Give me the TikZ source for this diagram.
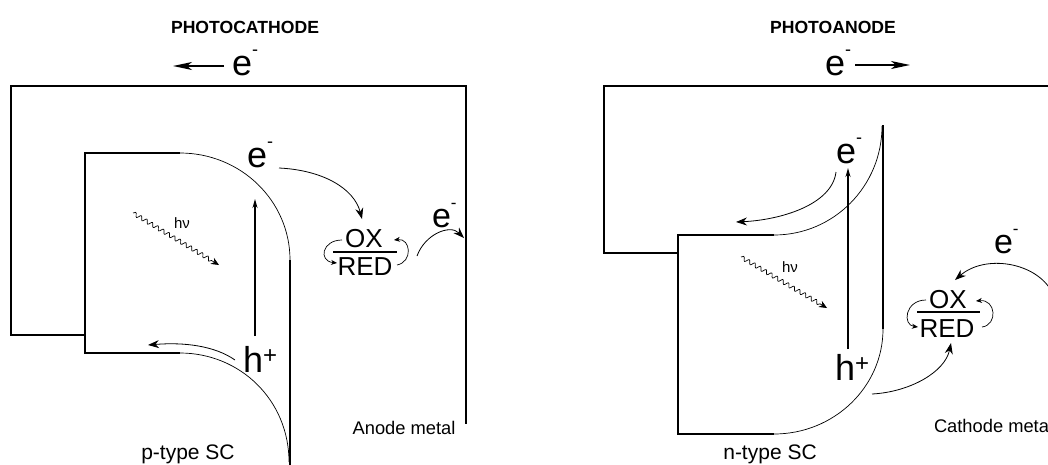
\documentclass[tikz,border=0pt]{standalone}
\usepackage{fontspec}
\setmainfont{Liberation Sans}
\usepackage{graphicx}
\usetikzlibrary{arrows.meta,decorations.pathmorphing}
\newcommand\elab[2]{{\fontsize{#1}{#1}\selectfont e\raisebox{.55em}{\fontsize{#2}{#2}\selectfont -}}}
\newcommand\hlab[2]{{\fontsize{#1}{#1}\selectfont h\raisebox{.25em}{\fontsize{#2}{#2}\selectfont +}}}
\begin{document}
\begin{tikzpicture}[x=1pt,y=-1pt,
  wire/.style={line width=1.8pt},
  band/.style={line width=0.7pt},
  flow/.style={line width=0.8pt,-{Stealth[length=11pt,width=8pt]}},
  loopar/.style={line width=0.7pt,-{Stealth[length=6pt,width=5pt]}},
  bigarrow/.style={line width=1.4pt,-{Stealth[length=19pt,width=8pt,inset=5pt]}},
  updown/.style={line width=1.3pt,-{Stealth[length=9pt,width=5pt]}},
  photon/.style={line width=0.7pt,-{Stealth[length=8pt,width=7pt]},decorate,
    decoration={snake,amplitude=2pt,segment length=6.5pt,post length=7pt}},
  lbl/.style={inner sep=0pt,outer sep=0pt},
  title/.style={lbl,anchor=base,font=\fontsize{17.6}{20}\selectfont\bfseries},
  caption/.style={lbl,font=\fontsize{18.3}{20}\selectfont},
  sclabel/.style={lbl,anchor=base,font=\fontsize{21}{24}\selectfont},
  redox/.style={lbl,anchor=base,font=\fontsize{26}{28}\selectfont},
  hnu/.style={lbl,anchor=base west,font=\fontsize{15}{16}\selectfont},
  carrier/.style={lbl,anchor=base west}]
\useasboundingbox (0,0) rectangle (1048,464);

% ---------------- PHOTOCATHODE ----------------
\node[title] (tcath) at (245,33) {PHOTOCATHODE};
\node[carrier] (ecath) at (232,75) {\elab{36}{18}};
\coordinate (cathtip) at (173,66);
\draw[bigarrow] (cathtip -| ecath.west) ++(-8,0) -- (cathtip);

% outer wire
\draw[wire] (85,335) -- (11,335) -- (11,86) -- (466,86) -- (466,424);
% semiconductor bands
\draw[wire] (180,153) -- (85,153) -- (85,353) -- (180,353);
\draw[band] (180,153) .. controls (241,153) and (290,201) .. (290,260);
\draw[band] (180,353) .. controls (240,353) and (289,400) .. (289,462);
\draw[wire] (290,260) -- (290,466);

% excitation
\coordinate (lv0) at (255,336);
\coordinate (lv1) at (255,199);
\draw[updown] (lv0) -- (lv1);
\coordinate (lp0) at (133,213);
\coordinate (lp1) at (219,265);
\draw[photon] (lp0) -- (lp1);
\node[hnu] (hnul) at (174,228) {hν};

\node[carrier] (el1) at (247,167) {\elab{36}{18}};
\node[carrier] (hl1) at (243,372) {\hlab{36}{24}};
\node[carrier] (el2) at (432,227) {\elab{34}{17}};

% redox couple
\node[redox] (oxl) at (364,247) {OX};
\node[redox] (redl) at (365,275) {RED};
\draw[line width=1.8pt] (333,252) -- (397,252);

% flows
\coordinate (a1s) at (279,168);
\coordinate (a1e) at (362,219);
\draw[flow] (a1s) .. controls (322,170) and (354,188) .. (a1e);
\coordinate (a2s) at (235,360);
\coordinate (a2e) at (148,345);
\draw[flow] (a2s) .. controls (215,346) and (185,342) .. (a2e);
\coordinate (a3s) at (417,256);
\coordinate (a3e) at (464,238);
\draw[flow] (a3s) .. controls (425,234) and (450,224) .. (a3e);
\coordinate (l1s) at (342,240);
\coordinate (l1e) at (337,263);
\draw[loopar] (l1s) .. controls (322,240) and (318,261) .. (l1e);
\coordinate (l2s) at (397,265);
\coordinate (l2e) at (394,240);
\draw[loopar] (l2s) .. controls (413,262) and (411,238) .. (l2e);

\node[caption,anchor=base] (anode) at (404,434) {Anode metal};
\node[sclabel] (ptype) at (188,459) {p-type SC};

% ---------------- PHOTOANODE ----------------
\node[title] (tano) at (833,33) {PHOTOANODE};
\node[carrier] (eano) at (825,75) {\elab{36}{18}};
\coordinate (anotip) at (910,65);
\draw[bigarrow] (anotip -| eano.east) ++(4,0) -- (anotip);

% outer wire
\draw[wire] (678,253) -- (604,253) -- (604,86) -- (1052,86);
% semiconductor bands
\draw[wire] (774,235) -- (678,235) -- (678,434) -- (774,434);
\draw[band] (774,235) .. controls (834,235) and (882,186) .. (882,126);
\draw[wire] (883,125) -- (883,329);
\draw[band] (883,329) .. controls (883,387) and (834,434) .. (774,434);

% excitation
\coordinate (rv0) at (848,349);
\coordinate (rv1) at (848,168);
\draw[updown] (rv0) -- (rv1);
\coordinate (rp0) at (741,257);
\coordinate (rp1) at (827,308);
\draw[photon] (rp0) -- (rp1);
\node[hnu] (hnur) at (782,272) {hν};

\node[carrier] (er1) at (836,163) {\elab{36}{18}};
\node[carrier] (hr1) at (835,380) {\hlab{36}{24}};
\node[carrier] (er2) at (994,253) {\elab{34}{17}};

% redox couple
\node[redox] (oxr) at (948,308) {OX};
\node[redox] (redr) at (947,337) {RED};
\draw[line width=1.8pt] (917,312) -- (980,312);

% flows
\coordinate (b1s) at (836,172);
\coordinate (b1e) at (736,222);
\draw[flow] (b1s) .. controls (832,205) and (780,220) .. (b1e);
\coordinate (b2s) at (872,394);
\coordinate (b2e) at (951,343);
\draw[flow] (b2s) .. controls (910,392) and (945,372) .. (b2e);
\coordinate (b3s) at (1052,292);
\coordinate (b3e) at (955,280);
\draw[flow] (b3s) .. controls (1036,262) and (985,254) .. (b3e);
\coordinate (m1s) at (926,300);
\coordinate (m1e) at (918,327);
\draw[loopar] (m1s) .. controls (905,300) and (902,325) .. (m1e);
\coordinate (m2s) at (982,327);
\coordinate (m2e) at (976,301);
\draw[loopar] (m2s) .. controls (998,325) and (996,299) .. (m2e);

\node[caption,anchor=base west] (cathode) at (934,432) {Cathode metal};
\node[sclabel] (ntype) at (770,459) {n-type SC};
\end{tikzpicture}
\end{document}
